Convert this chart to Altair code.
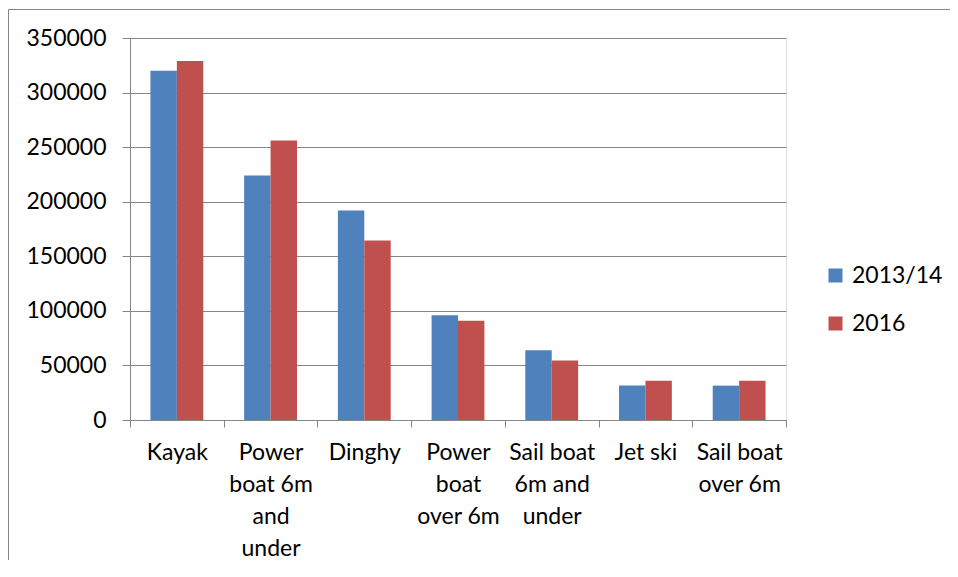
import altair as alt
import pandas as pd

categories = ["Kayak", "Power boat 6m and under", "Dinghy", "Power boat over 6m",
              "Sail boat 6m and under", "Jet ski", "Sail boat over 6m"]
label_lines = [["Kayak"], ["Power", "boat 6m", "and", "under"], ["Dinghy"],
               ["Power", "boat", "over 6m"], ["Sail boat", "6m and", "under"],
               ["Jet ski"], ["Sail boat", "over 6m"]]
series_names = ["2013/14", "2016"]
values_2013 = [320000, 224000, 192000, 96000, 64000, 31500, 31500]
values_2016 = [329000, 256000, 164500, 91000, 54500, 36000, 36000]
y_ticks = [0, 50000, 100000, 150000, 200000, 250000, 300000, 350000]
colors = ["#4F81BD", "#C0504D"]

rows = []
for c, a, b in zip(categories, values_2013, values_2016):
    rows.append({"category": c, "series": series_names[0], "value": a})
    rows.append({"category": c, "series": series_names[1], "value": b})
df = pd.DataFrame(rows)

# label expression producing multi-line labels
expr = "''"
for c, lines in reversed(list(zip(categories, label_lines))):
    arr = "[" + ",".join("'" + l + "'" for l in lines) + "]"
    expr = f"datum.value == '{c}' ? {arr} : ({expr})"

FONT = "Lato"
GRAY = "#868686"
FS = 23

bars = alt.Chart(df).mark_bar().encode(
    x=alt.X("category:N", sort=categories,
            scale=alt.Scale(paddingInner=0, paddingOuter=0),
            axis=alt.Axis(title=None, labelAngle=0, labelExpr=expr, tickBand="extent",
                          tickSize=7, tickColor=GRAY, domainColor=GRAY,
                          labelFontSize=FS, labelFont=FONT, labelColor="black",
                          labelLineHeight=32, labelPadding=14, labelBaseline="top",
                          grid=False)),
    xOffset=alt.XOffset("series:N", sort=series_names,
                        scale=alt.Scale(paddingInner=0, paddingOuter=0.774)),
    y=alt.Y("value:Q", scale=alt.Scale(domain=[0, 350000], nice=False),
            axis=alt.Axis(title=None, values=y_ticks, format="d", grid=True,
                          gridColor=GRAY, gridWidth=1, domainColor=GRAY,
                          tickColor=GRAY, tickSize=8, labelFontSize=FS,
                          labelFont=FONT, labelColor="black", labelPadding=16)),
    color=alt.Color("series:N", sort=series_names,
                    scale=alt.Scale(domain=series_names, range=colors),
                    legend=alt.Legend(title=None, orient="none", legendX=694, legendY=226,
                                      symbolType="square", symbolSize=196,
                                      symbolStrokeWidth=0, labelFontSize=FS,
                                      labelFont=FONT, labelColor="black",
                                      rowPadding=24, labelOffset=5)),
)

one = pd.DataFrame({"k": [0]})
border_left = alt.Chart(one).mark_rule(color=GRAY, strokeWidth=1).encode(
    x=alt.value(-121.5), y=alt.value(-28.5), y2=alt.value(560))
border_top = alt.Chart(one).mark_rule(color=GRAY, strokeWidth=1).encode(
    x=alt.value(-121.5), x2=alt.value(830), y=alt.value(-28.5))

chart = alt.layer(bars, border_left, border_top).properties(
    width=656, height=382,
    autosize=alt.AutoSizeParams(type="none"),
    padding={"left": 122, "top": 30, "right": 164, "bottom": 140},
).configure_view(stroke=None).configure(background="white")

chart.save("out.html", embed_options={"renderer": "svg", "actions": False})
